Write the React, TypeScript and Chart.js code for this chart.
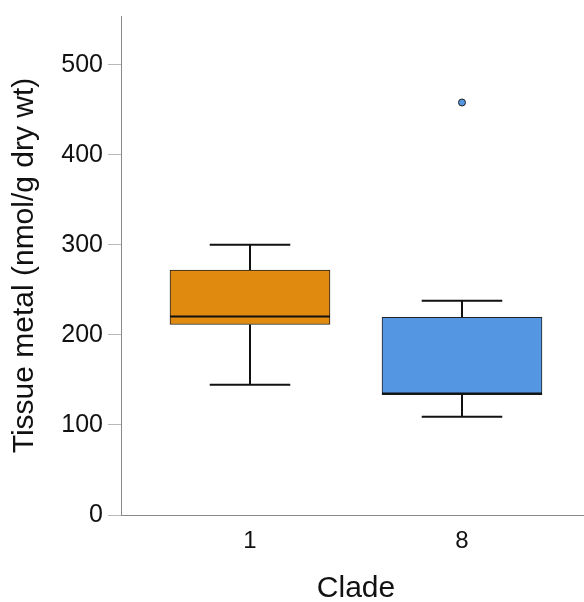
import React, { useEffect, useRef } from "react";
import { Chart, registerables } from "chart.js";

Chart.register(...registerables);

// Box-plot summary per clade
const clades = ["1", "8"];
const cladePos = [0, 1];
const lowerWhisker = [144.5, 109];
const q1 = [211.5, 133.5];
const median = [220.5, 135];
const q3 = [272, 219.5];
const upperWhisker = [300, 238];
const outlierPos = [1];
const outlierValue = [458];
const boxColors = ["#E08A0F", "#5596E3"];
const yTicks = [0, 100, 200, 300, 400, 500];

const FONT = "'Liberation Sans', Arial, sans-serif";
const CAP_HALF = 0.19; // whisker cap half-width in x units

const whiskerPlugin = {
  id: "whiskers",
  beforeDatasetsDraw(chart: any) {
    const { ctx, scales } = chart;
    const x = scales.x;
    const y = scales.y;
    ctx.save();
    ctx.strokeStyle = "#111";
    ctx.lineWidth = 2;
    cladePos.forEach((p, i) => {
      const cx = Math.round(x.getPixelForValue(p));
      const l = x.getPixelForValue(p - CAP_HALF);
      const r = x.getPixelForValue(p + CAP_HALF);
      const yLo = y.getPixelForValue(lowerWhisker[i]);
      const yHi = y.getPixelForValue(upperWhisker[i]);
      ctx.beginPath();
      ctx.moveTo(cx, yHi);
      ctx.lineTo(cx, y.getPixelForValue(q3[i]));
      ctx.moveTo(cx, yLo);
      ctx.lineTo(cx, y.getPixelForValue(q1[i]));
      ctx.moveTo(l, yHi);
      ctx.lineTo(r, yHi);
      ctx.moveTo(l, yLo);
      ctx.lineTo(r, yLo);
      ctx.stroke();
    });
    ctx.restore();
  },
  afterDatasetsDraw(chart: any) {
    const { ctx, scales } = chart;
    const meta = chart.getDatasetMeta(0);
    ctx.save();
    ctx.strokeStyle = "#111";
    ctx.lineWidth = 2;
    cladePos.forEach((p, i) => {
      const bar = meta.data[i];
      if (!bar) return;
      const half = bar.width / 2;
      const ym = scales.y.getPixelForValue(median[i]);
      ctx.beginPath();
      ctx.moveTo(bar.x - half, ym);
      ctx.lineTo(bar.x + half, ym);
      ctx.stroke();
    });
    ctx.restore();
  },
};

export default function App() {
  const canvasRef = useRef<HTMLCanvasElement | null>(null);

  useEffect(() => {
    document.body.style.margin = "0";
    const canvas = canvasRef.current;
    if (!canvas) return;
    const chart = new Chart(canvas, {
      type: "bar",
      data: {
        datasets: [
          {
            type: "bar",
            data: cladePos.map((p, i) => ({ x: p, y: [q1[i], q3[i]] })) as any,
            backgroundColor: boxColors,
            borderColor: "#222",
            borderWidth: 1,
            borderSkipped: false,
            barThickness: 160,
            order: 2,
          } as any,
          {
            type: "scatter",
            data: outlierPos.map((p, i) => ({ x: p, y: outlierValue[i] })),
            backgroundColor: boxColors[1],
            borderColor: "#222",
            borderWidth: 1,
            pointRadius: 3.5,
            order: 1,
          } as any,
        ],
      },
      options: {
        animation: false,
        responsive: false,
        maintainAspectRatio: false,
        layout: { autoPadding: false, padding: { top: 16, right: 0, bottom: 0, left: 0 } },
        plugins: {
          legend: { display: false },
          tooltip: { enabled: false },
        },
        scales: {
          x: {
            type: "linear",
            min: -0.6085,
            max: 1.6085,
            offset: false,
            afterFit: (s: any) => {
              s.height = 87;
              s.paddingLeft = 0;
              s.paddingRight = 0;
            },
            afterBuildTicks: (s: any) => {
              s.ticks = cladePos.map((v) => ({ value: v }));
            },
            ticks: {
              callback: (v: any) => {
                const idx = cladePos.indexOf(Number(v));
                return idx >= 0 ? clades[idx] : "";
              },
              color: "#111",
              font: { family: FONT, size: 24 },
              padding: 12,
              maxRotation: 0,
              autoSkip: false,
            },
            grid: { display: true, drawOnChartArea: false, drawTicks: false },
            border: { display: true, color: "#8a8a8a", width: 1 },
            title: {
              display: true,
              text: "Clade",
              color: "#111",
              font: { family: FONT, size: 30, lineHeight: 0.9 },
              padding: { top: 0, bottom: 0 },
            },
          },
          y: {
            type: "linear",
            min: 0,
            max: 554,
            afterFit: (s: any) => {
              s.width = 121;
              s.paddingTop = 0;
              s.paddingBottom = 0;
            },
            afterBuildTicks: (s: any) => {
              s.ticks = yTicks.map((v) => ({ value: v }));
            },
            ticks: {
              color: "#111",
              font: { family: FONT, size: 25 },
              padding: 5,
            },
            grid: {
              display: true,
              drawOnChartArea: false,
              drawTicks: true,
              tickLength: 13,
              tickColor: "#b8b8b8",
            },
            border: { display: true, color: "#8a8a8a", width: 1 },
            title: {
              display: true,
              text: "Tissue metal (nmol/g dry wt)",
              color: "#111",
              font: { family: FONT, size: 30 },
              padding: { top: 7, bottom: 0 },
            },
          },
        },
      } as any,
      plugins: [whiskerPlugin],
    });
    return () => chart.destroy();
  }, []);

  return (
    <div style={{ position: "relative", width: 584, height: 602, overflow: "hidden", background: "#fff" }}>
      <canvas ref={canvasRef} width={591} height={602} style={{ display: "block" }} />
    </div>
  );
}
